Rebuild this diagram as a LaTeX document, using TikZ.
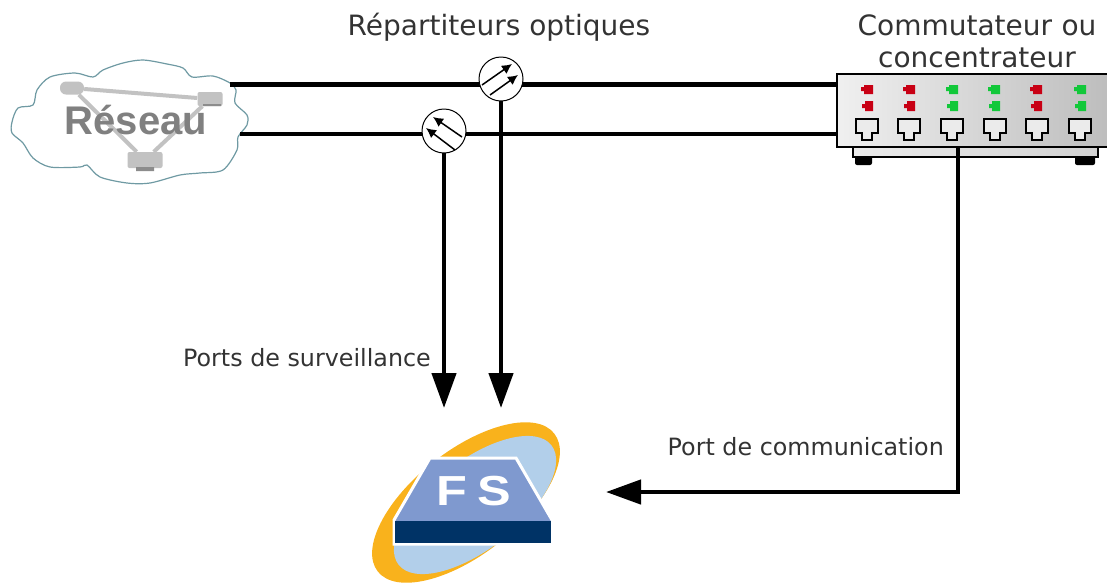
\documentclass[tikz,border=0pt]{standalone}
\usepackage{fontspec}
\setmainfont{DejaVu Sans}
\newfontfamily\logofont{Liberation Sans}
\usetikzlibrary{arrows.meta}
\definecolor{cloudline}{HTML}{6F9AA3}
\definecolor{netgray}{HTML}{C2C2C2}
\definecolor{ledred}{HTML}{C80014}
\definecolor{ledgreen}{HTML}{12C83A}
\definecolor{fsorange}{HTML}{F9B21C}
\definecolor{fssky}{HTML}{B2CFEA}
\definecolor{fsblue}{HTML}{7F99CF}
\definecolor{fsnavy}{HTML}{003366}

\begin{document}
\begin{tikzpicture}[x=1pt,y=-1pt,
link/.style={line width=4.5pt},
feed/.style={line width=4.5pt,-{Triangle[length=35pt,width=24pt]}},
splitter/.style={circle,draw,fill=white,line width=1pt,minimum size=44pt,inner sep=0pt,outer sep=0pt},
tap/.style={line width=1.5pt,-{Latex[length=10pt,width=10pt]}},
caption/.style={font=\fontsize{28}{32}\selectfont,align=center,text=black!80},
portlabel/.style={font=\fontsize{23.8}{26}\selectfont,text=black!80,inner sep=0pt},
netbox/.style={fill=netgray,rounded corners=2pt,inner sep=0pt}]

\useasboundingbox (0,0) rectangle (1107,582);

% cloud
\draw[cloudline,line width=1.2pt,fill=white] plot[smooth cycle,tension=0.5] coordinates {
(12,122) (18,108) (33,105) (37,90) (50,77) (75,73) (93,77) (103,70) (123,63) (143,60)
(167,64) (183,68) (192,77) (213,76) (230,83) (236,90) (235,103) (247,115) (247,125)
(238,137) (237,150) (223,170) (200,173) (180,175) (150,183) (127,183) (100,177) (87,165)
(80,167) (50,167) (33,158) (23,143) (12,133)};

\node[netbox,minimum width=24pt,minimum height=13pt,rounded corners=6pt] (netA) at (72,88) {};
\node[netbox,minimum width=25pt,minimum height=14pt] (netB) at (210,99) {};
\node[netbox,minimum width=35pt,minimum height=16pt] (netC) at (145,160) {};
\draw[netgray,line width=4pt] (netA) -- (netB) -- (netC) -- (netA);
\fill[black!45] (203,104) rectangle (221,106) (136,167) rectangle (154,171);
\node[font=\logofont\bfseries\fontsize{40}{40}\selectfont,text=black!50] (reseau) at (136,120) {Réseau};

% switch
\node[draw,left color=black!8,right color=black!18,line width=2pt,minimum width=245pt,minimum height=10pt,inner sep=0pt] (swbase) at (975,152) {};
\fill[rounded corners=2pt] (855,156) rectangle (872,165) (1075,156) rectangle (1095,165);
\node[draw,line width=2pt,left color=black!6,right color=black!26,minimum width=274pt,minimum height=73pt,inner sep=0pt] (switch) at (974,110.5) {};
\foreach \x/\a/\b in {868/ledred/ledred,910/ledred/ledred,953/ledgreen/ledgreen,995/ledgreen/ledgreen,1037/ledred/ledred,1081/ledgreen/ledgreen}{
  \fill[\a] (\x-4,85) rectangle (\x+5,94) (\x-7,87) rectangle (\x-4,91);
  \fill[\b] (\x-3,101) rectangle (\x+5,111) (\x-6,104) rectangle (\x-3,108);
}
\foreach \x in {867,909,952,995,1037,1080}{
  \draw[line width=2pt,fill=black!8] (\x-11,119) -- ++(22,0) -- ++(0,14) -- ++(-6,0) -- ++(0,7) -- ++(-10,0) -- ++(0,-7) -- ++(-6,0) -- cycle;
}

% lines
\coordinate (topA) at (230,84.5);
\coordinate (topB) at (837,84.5);
\coordinate (botA) at (240,134);
\coordinate (botB) at (837,134);
\draw[link] (topA) -- (topB);
\draw[link] (botA) -- (botB);

\node[splitter] (S1) at (501,79) {};
\node[splitter] (S2) at (444,131) {};
\draw[tap] (482,85) -- (512,64);
\draw[tap] (490,95) -- (518,75);
\draw[tap] (462,137) -- (433,117);
\draw[tap] (455,150) -- (426,128);

\coordinate (portA) at (444,408);
\coordinate (portB) at (501,408);
\coordinate (portC) at (606,492);
\coordinate (corner) at (958,492);
\draw[feed] (S2.south) -- (portA);
\draw[feed] (S1.south) -- (portB);
\draw[feed] (switch.south -| corner) -- (corner) -- (portC);

% logo
\fill[fsorange,rotate around={38:(466,502.5)}] (466,502.5) ellipse (112pt and 52pt);
\fill[fssky,rotate around={38:(475,505)}] (475,505) ellipse (97pt and 44pt);
\draw[white,line width=3pt,fill=fsblue,line join=miter] (430,458) -- (516,458) -- (552,520) -- (552,544) -- (394,544) -- (394,520) -- cycle;
\fill[fsnavy] (395,521) rectangle (551,543);
\node[font=\logofont\bfseries\fontsize{42}{42}\selectfont,text=white,xscale=1.2,inner sep=0pt] (fs) at (474,491) {F\kern9pt S};

% labels
\node[caption] (splitlabel) at (499,27) {Répartiteurs optiques};
\node[caption,text width=260pt] (switchlabel) at (977,41) {Commutateur ou\\concentrateur};
\node[portlabel,anchor=east] (monlabel) at (431,358) {Ports de surveillance};
\node[portlabel,anchor=east] (commlabel) at (944,447) {Port de communication};

\end{tikzpicture}
\end{document}
